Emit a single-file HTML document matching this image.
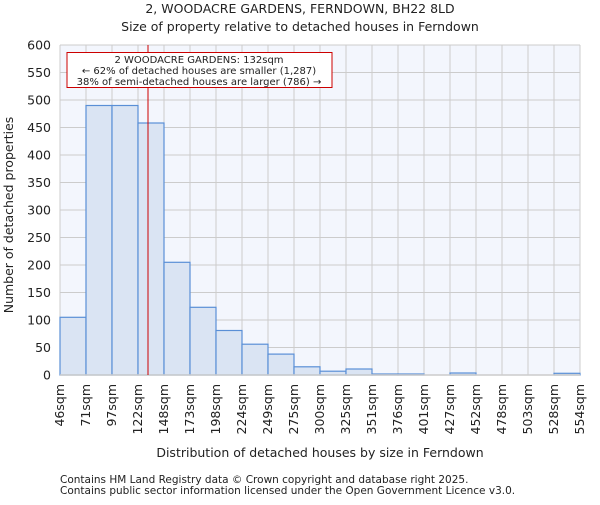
<!DOCTYPE html>
<html><head><meta charset="utf-8"><style>
body{margin:0;background:#fff;}
text{font-family:"DejaVu Sans","Liberation Sans",sans-serif;fill:#222;}
</style></head><body>
<svg width="600" height="500" viewBox="0 0 600 500" xmlns="http://www.w3.org/2000/svg">
<text x="300" y="13" font-size="12.5" text-anchor="middle">2, WOODACRE GARDENS, FERNDOWN, BH22 8LD</text>
<text x="300" y="31" font-size="12.5" text-anchor="middle">Size of property relative to detached houses in Ferndown</text>
<rect x="60" y="45" width="520" height="330" fill="#f3f6fd"/>
<g stroke="#cccccc" stroke-width="1">
<line x1="60" x2="580" y1="45" y2="45"/><line x1="60" x2="580" y1="72.5" y2="72.5"/><line x1="60" x2="580" y1="100" y2="100"/><line x1="60" x2="580" y1="127.5" y2="127.5"/><line x1="60" x2="580" y1="155" y2="155"/><line x1="60" x2="580" y1="182.5" y2="182.5"/><line x1="60" x2="580" y1="210" y2="210"/><line x1="60" x2="580" y1="237.5" y2="237.5"/><line x1="60" x2="580" y1="265" y2="265"/><line x1="60" x2="580" y1="292.5" y2="292.5"/><line x1="60" x2="580" y1="320" y2="320"/><line x1="60" x2="580" y1="347.5" y2="347.5"/>
<line x1="86" x2="86" y1="45" y2="375"/><line x1="112" x2="112" y1="45" y2="375"/><line x1="138" x2="138" y1="45" y2="375"/><line x1="164" x2="164" y1="45" y2="375"/><line x1="190" x2="190" y1="45" y2="375"/><line x1="216" x2="216" y1="45" y2="375"/><line x1="242" x2="242" y1="45" y2="375"/><line x1="268" x2="268" y1="45" y2="375"/><line x1="294" x2="294" y1="45" y2="375"/><line x1="320" x2="320" y1="45" y2="375"/><line x1="346" x2="346" y1="45" y2="375"/><line x1="372" x2="372" y1="45" y2="375"/><line x1="398" x2="398" y1="45" y2="375"/><line x1="424" x2="424" y1="45" y2="375"/><line x1="450" x2="450" y1="45" y2="375"/><line x1="476" x2="476" y1="45" y2="375"/><line x1="502" x2="502" y1="45" y2="375"/><line x1="528" x2="528" y1="45" y2="375"/><line x1="554" x2="554" y1="45" y2="375"/><line x1="580" x2="580" y1="45" y2="375"/><line x1="60" x2="60" y1="45" y2="375"/>
</g>
<g fill="#dae4f3" stroke="#5a8fd6" stroke-width="1.2">
<rect x="60" y="317.3" width="26" height="57.7"/>
<rect x="86" y="105.5" width="26" height="269.5"/>
<rect x="112" y="105.5" width="26" height="269.5"/>
<rect x="138" y="123" width="26" height="252"/>
<rect x="164" y="262.3" width="26" height="112.7"/>
<rect x="190" y="307.3" width="26" height="67.7"/>
<rect x="216" y="330.5" width="26" height="44.5"/>
<rect x="242" y="344.2" width="26" height="30.8"/>
<rect x="268" y="354.1" width="26" height="20.9"/>
<rect x="294" y="366.8" width="26" height="8.2"/>
<rect x="320" y="371.2" width="26" height="3.8"/>
<rect x="346" y="369" width="26" height="6"/>
<rect x="372" y="374" width="26" height="1"/>
<rect x="398" y="374" width="26" height="1"/>
<rect x="450" y="373" width="26" height="2"/>
<rect x="554" y="373.3" width="26" height="1.7"/>
</g>
<line x1="60" x2="580" y1="375" y2="375" stroke="#ccc" stroke-width="1.5"/>
<line x1="148" x2="148" y1="45" y2="375" stroke="#cc0000" stroke-width="1"/>
<rect x="67" y="52.5" width="265" height="35" fill="#fff" stroke="#cc0000" stroke-width="1"/>
<text x="199" y="63" font-size="10" text-anchor="middle">2 WOODACRE GARDENS: 132sqm</text>
<text x="199" y="74" font-size="10" text-anchor="middle">← 62% of detached houses are smaller (1,287)</text>
<text x="199" y="85" font-size="10" text-anchor="middle">38% of semi-detached houses are larger (786) →</text>
<g font-size="12.5" text-anchor="end">
<text x="51" y="49.5">600</text><text x="51" y="77">550</text><text x="51" y="104.5">500</text><text x="51" y="132">450</text><text x="51" y="159.5">400</text><text x="51" y="187">350</text><text x="51" y="214.5">300</text><text x="51" y="242">250</text><text x="51" y="269.5">200</text><text x="51" y="297">150</text><text x="51" y="324.5">100</text><text x="51" y="352">50</text><text x="51" y="379.5">0</text>
</g>
<g font-size="12.5" text-anchor="end">
<text transform="translate(64,384) rotate(-90)">46sqm</text>
<text transform="translate(90,384) rotate(-90)">71sqm</text>
<text transform="translate(116,384) rotate(-90)">97sqm</text>
<text transform="translate(142,384) rotate(-90)">122sqm</text>
<text transform="translate(168,384) rotate(-90)">148sqm</text>
<text transform="translate(194,384) rotate(-90)">173sqm</text>
<text transform="translate(220,384) rotate(-90)">198sqm</text>
<text transform="translate(246,384) rotate(-90)">224sqm</text>
<text transform="translate(272,384) rotate(-90)">249sqm</text>
<text transform="translate(298,384) rotate(-90)">275sqm</text>
<text transform="translate(324,384) rotate(-90)">300sqm</text>
<text transform="translate(350,384) rotate(-90)">325sqm</text>
<text transform="translate(376,384) rotate(-90)">351sqm</text>
<text transform="translate(402,384) rotate(-90)">376sqm</text>
<text transform="translate(428,384) rotate(-90)">401sqm</text>
<text transform="translate(454,384) rotate(-90)">427sqm</text>
<text transform="translate(480,384) rotate(-90)">452sqm</text>
<text transform="translate(506,384) rotate(-90)">478sqm</text>
<text transform="translate(532,384) rotate(-90)">503sqm</text>
<text transform="translate(558,384) rotate(-90)">528sqm</text>
<text transform="translate(584,384) rotate(-90)">554sqm</text>
</g>
<text x="320" y="457" font-size="12.5" text-anchor="middle">Distribution of detached houses by size in Ferndown</text>
<text transform="translate(13,215) rotate(-90)" font-size="12.5" text-anchor="middle">Number of detached properties</text>
<text x="60" y="483" font-size="10.5" fill="#444">Contains HM Land Registry data © Crown copyright and database right 2025.</text>
<text x="60" y="494" font-size="10.5" fill="#444">Contains public sector information licensed under the Open Government Licence v3.0.</text>
</svg>
</body></html>
